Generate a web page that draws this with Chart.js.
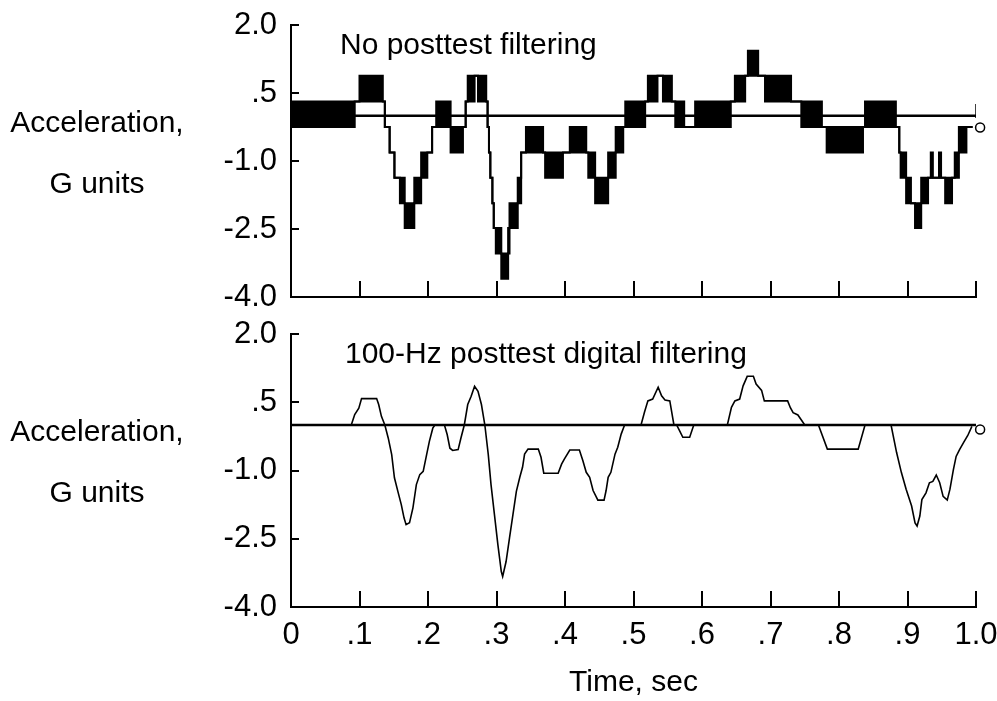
<!DOCTYPE html>
<html>
<head>
<meta charset="utf-8">
<script src="https://cdn.jsdelivr.net/npm/chart.js@4.4.1/dist/chart.umd.min.js"></script>
<style>
  html, body { margin: 0; padding: 0; background: #fff; }
  #wrap { position: relative; width: 997px; height: 701px; background: #fff; overflow: hidden; font-family: "Liberation Sans", Arial, sans-serif; color: #000; }
  canvas { position: absolute; left: 0; }
  .lbl { position: absolute; font-size: 30px; line-height: 30px; white-space: nowrap; }
  .ylab { position: absolute; width: 200px; left: -3px; text-align: center; font-size: 30px; line-height: 30px; }
</style>
</head>
<body>
<div id="wrap">
  <canvas id="topChart" width="997" height="330" style="top:0px"></canvas>
  <canvas id="botChart" width="997" height="391" style="top:310px"></canvas>
  <div class="lbl" style="left:340px; top:29px;">No posttest filtering</div>
  <div class="lbl" style="left:345px; top:338px;">100-Hz posttest digital filtering</div>
  <div class="ylab" style="top:107px;">Acceleration,</div>
  <div class="ylab" style="top:168px;">G units</div>
  <div class="ylab" style="top:416px;">Acceleration,</div>
  <div class="ylab" style="top:477px;">G units</div>
</div>
<script>
// ---------- data ----------
const yTickLabels = ["-4.0", "-2.5", "-1.0", ".5", "2.0"];
const xTickLabels = ["0", ".1", ".2", ".3", ".4", ".5", ".6", ".7", ".8", ".9", "1.0"];

// Top panel (no posttest filtering): quantized signal; upper/lower envelope of the dithering band, step starts (sec)
const topTime = [
  0.000, 0.093, 0.100, 0.134, 0.137, 0.144, 0.151, 0.159, 0.166, 0.180,
  0.190, 0.199, 0.206, 0.212, 0.233, 0.251, 0.255, 0.258, 0.268, 0.273,
  0.285, 0.287, 0.289, 0.291, 0.294, 0.296, 0.299, 0.307, 0.317, 0.319,
  0.331, 0.336, 0.343, 0.368, 0.371, 0.397, 0.407, 0.431, 0.434, 0.444,
  0.463, 0.474, 0.485, 0.488, 0.517, 0.521, 0.535, 0.543, 0.556, 0.561,
  0.574, 0.590, 0.642, 0.648, 0.663, 0.667, 0.682, 0.692, 0.730, 0.745,
  0.775, 0.782, 0.835, 0.838, 0.883, 0.888, 0.890, 0.898, 0.905, 0.911,
  0.920, 0.930, 0.934, 0.937, 0.946, 0.949, 0.955, 0.965, 0.969, 0.975,
  0.986, 0.995
];
const topUpper = [
  0.31, 0.31, 0.88, 0.31, -0.25, -0.81, -1.37, -1.37, -1.93, -1.37,
  -0.81, -0.81, -0.25, 0.31, -0.25, -0.25, 0.31, 0.88, 0.88, 0.88,
  0.31, -0.25, -0.81, -1.37, -1.93, -2.48, -2.48, -3.04, -2.48, -1.93,
  -1.37, -0.81, -0.25, -0.81, -0.81, -0.81, -0.25, -0.81, -0.81, -1.37,
  -0.81, -0.25, -0.25, 0.31, 0.31, 0.88, 0.88, 0.88, 0.31, 0.31,
  -0.25, 0.31, 0.31, 0.88, 0.88, 1.43, 0.88, 0.88, 0.31, 0.31,
  -0.25, -0.25, -0.25, 0.31, -0.25, -0.81, -0.81, -1.37, -1.93, -1.93,
  -1.37, -1.37, -0.81, -1.37, -0.81, -1.37, -1.37, -1.37, -0.81, -0.25,
  -0.25, -0.25
];
const topLower = [
  -0.25, 0.31, 0.31, 0.31, -0.25, -0.81, -1.37, -1.93, -2.48, -1.93,
  -1.37, -0.81, -0.25, -0.25, -0.81, -0.25, 0.31, 0.31, 0.88, 0.31,
  0.31, -0.25, -0.81, -1.37, -1.93, -2.48, -3.04, -3.60, -3.04, -2.48,
  -1.93, -0.81, -0.81, -0.81, -1.37, -0.81, -0.81, -0.81, -1.37, -1.93,
  -1.37, -0.81, -0.25, -0.25, 0.31, 0.31, 0.88, 0.31, 0.31, -0.25,
  -0.25, -0.25, 0.31, 0.31, 0.88, 0.88, 0.88, 0.31, 0.31, -0.25,
  -0.25, -0.81, -0.25, -0.25, -0.25, -0.81, -1.37, -1.93, -1.93, -2.48,
  -1.93, -1.37, -1.37, -1.37, -1.37, -1.37, -1.93, -1.37, -1.37, -0.81,
  -0.25, -0.25
];

// Bottom panel (100-Hz posttest digital filtering)
const botTime = [
  0.000, 0.088, 0.093, 0.099, 0.103, 0.125, 0.128, 0.132, 0.137, 0.142,
  0.147, 0.151, 0.156, 0.161, 0.165, 0.168, 0.173, 0.178, 0.183, 0.188,
  0.193, 0.198, 0.202, 0.207, 0.210, 0.224, 0.228, 0.232, 0.236, 0.244,
  0.248, 0.253, 0.258, 0.263, 0.268, 0.273, 0.278, 0.283, 0.288, 0.292,
  0.297, 0.302, 0.307, 0.309, 0.314, 0.319, 0.324, 0.329, 0.334, 0.338,
  0.341, 0.346, 0.361, 0.365, 0.369, 0.390, 0.395, 0.399, 0.407, 0.421,
  0.426, 0.431, 0.436, 0.441, 0.448, 0.457, 0.460, 0.463, 0.467, 0.473,
  0.477, 0.482, 0.487, 0.511, 0.516, 0.521, 0.528, 0.536, 0.541, 0.546,
  0.553, 0.559, 0.563, 0.567, 0.572, 0.582, 0.588, 0.637, 0.643, 0.648,
  0.655, 0.660, 0.666, 0.675, 0.679, 0.687, 0.691, 0.725, 0.729, 0.733,
  0.740, 0.750, 0.770, 0.783, 0.828, 0.838, 0.876, 0.884, 0.891, 0.898,
  0.906, 0.911, 0.914, 0.918, 0.921, 0.927, 0.932, 0.937, 0.942, 0.947,
  0.952, 0.958, 0.962, 0.967, 0.971, 0.976, 0.982, 0.988, 0.994
];
const botAccel = [
  0.00, 0.00, 0.23, 0.37, 0.58, 0.58, 0.45, 0.19, 0.00, -0.29,
  -0.65, -1.16, -1.46, -1.75, -2.04, -2.19, -2.15, -1.82, -1.31, -1.09,
  -1.02, -0.65, -0.36, -0.07, 0.00, 0.00, -0.21, -0.51, -0.56, -0.54,
  -0.29, 0.00, 0.45, 0.63, 0.85, 0.74, 0.45, 0.00, -0.65, -1.31,
  -1.97, -2.63, -3.22, -3.33, -3.00, -2.48, -1.97, -1.46, -1.15, -0.93,
  -0.64, -0.53, -0.53, -0.71, -1.06, -1.06, -0.86, -0.75, -0.55, -0.55,
  -0.78, -1.04, -1.15, -1.44, -1.65, -1.65, -1.44, -1.15, -1.04, -0.64,
  -0.49, -0.20, 0.00, 0.00, 0.28, 0.53, 0.57, 0.83, 0.64, 0.55,
  0.53, 0.00, 0.00, -0.12, -0.27, -0.27, 0.00, 0.00, 0.39, 0.53,
  0.57, 0.86, 1.07, 1.07, 0.90, 0.76, 0.53, 0.53, 0.38, 0.27,
  0.22, 0.00, 0.00, -0.53, -0.53, 0.00, 0.00, -0.60, -1.04, -1.41,
  -1.78, -2.15, -2.22, -2.00, -1.64, -1.49, -1.27, -1.24, -1.10, -1.27,
  -1.57, -1.65, -1.41, -0.98, -0.69, -0.54, -0.38, -0.23, -0.03
];

// reference (zero) line, its end mark, and end-marker circles
const refLineTime = [0, 1.0];
const refLineAccel = [0, 0];
const refEndMarkTime = [1.0, 1.0];
const refEndMarkAccel = [0.26, -0.05];
const topEndMarker = { t: 1.006, a: -0.26 };
const botEndMarker = { t: 1.006, a: -0.10 };

// ---------- helpers ----------
const toPts = (xs, ys) => xs.map((x, i) => ({ x: x, y: ys[i] }));
Chart.defaults.font.family = '"Liberation Sans", Arial, sans-serif';
Chart.defaults.color = '#000';

const innerTicks = {
  id: 'innerTicks',
  afterDraw(chart) {
    const { ctx, chartArea: a, scales: { x, y } } = chart;
    ctx.save();
    ctx.strokeStyle = '#000';
    ctx.lineWidth = 2;
    ctx.beginPath();
    x.ticks.forEach(t => {
      if (t.value <= 0.0001) return;
      const px = Math.round(x.getPixelForValue(t.value));
      ctx.moveTo(px, a.bottom);
      ctx.lineTo(px, a.bottom - 16);
    });
    y.ticks.forEach(t => {
      const py = Math.round(y.getPixelForValue(t.value));
      ctx.moveTo(a.left, py);
      ctx.lineTo(a.left + 8, py);
    });
    ctx.stroke();
    ctx.restore();
  }
};

function makeOptions(showX, xHeight, padTop) {
  return {
    responsive: false,
    animation: false,
    devicePixelRatio: 1,
    layout: { padding: { top: padTop, right: 21, left: 0, bottom: 0 } },
    plugins: { legend: { display: false }, tooltip: { enabled: false }, title: { display: false } },
    elements: { point: { radius: 0 }, line: { tension: 0 } },
    scales: {
      x: {
        type: 'linear', min: 0, max: 1,
        ticks: {
          display: showX, stepSize: 0.1, padding: 10, maxRotation: 0, autoSkip: false,
          font: { size: 31, lineHeight: 1.2 },
          callback: (v) => xTickLabels[Math.round(v * 10)]
        },
        grid: { display: true, drawOnChartArea: false, drawTicks: false },
        border: { display: true, color: '#000', width: 2 },
        title: { display: showX, text: 'Time, sec', font: { size: 30, lineHeight: 1.2 }, padding: { top: 0, bottom: 0 } },
        afterFit: (s) => { s.height = xHeight; s.paddingLeft = 0; s.paddingRight = 0; }
      },
      y: {
        min: -4, max: 2,
        ticks: {
          stepSize: 1.5, padding: 14,
          font: { size: 31, lineHeight: 1.2 },
          callback: (v) => yTickLabels[Math.round((v + 4) / 1.5)]
        },
        grid: { display: true, drawOnChartArea: false, drawTicks: false },
        border: { display: true, color: '#000', width: 2 },
        afterFit: (s) => { s.width = 291; s.paddingTop = 0; s.paddingBottom = 0; }
      }
    }
  };
}

const lineStyle = { borderColor: '#000', pointRadius: 0, tension: 0 };

new Chart(document.getElementById('topChart'), {
  type: 'line',
  data: {
    datasets: [
      Object.assign({ data: toPts(topTime, topUpper), stepped: true, borderWidth: 2, fill: false }, lineStyle),
      Object.assign({ data: toPts(topTime, topLower), stepped: true, borderWidth: 2, fill: '-1', backgroundColor: '#000' }, lineStyle),
      Object.assign({ data: toPts(refLineTime, refLineAccel), borderWidth: 2.5, fill: false }, lineStyle),
      Object.assign({ data: toPts(refEndMarkTime, refEndMarkAccel), borderWidth: 1.5, fill: false }, lineStyle),
      { data: [{ x: topEndMarker.t, y: topEndMarker.a }], showLine: false, pointRadius: 4.5, pointBorderWidth: 1.5,
        pointBorderColor: '#000', pointBackgroundColor: '#fff', clip: false }
    ]
  },
  options: makeOptions(false, 33, 25),
  plugins: [innerTicks]
});

new Chart(document.getElementById('botChart'), {
  type: 'line',
  data: {
    datasets: [
      Object.assign({ data: toPts(botTime, botAccel), borderWidth: 1.6, fill: false }, lineStyle),
      Object.assign({ data: toPts(refLineTime, refLineAccel), borderWidth: 2.5, fill: false }, lineStyle),
      { data: [{ x: botEndMarker.t, y: botEndMarker.a }], showLine: false, pointRadius: 4.5, pointBorderWidth: 1.5,
        pointBorderColor: '#000', pointBackgroundColor: '#fff', clip: false }
    ]
  },
  options: makeOptions(true, 94, 24),
  plugins: [innerTicks]
});
</script>
</body>
</html>
